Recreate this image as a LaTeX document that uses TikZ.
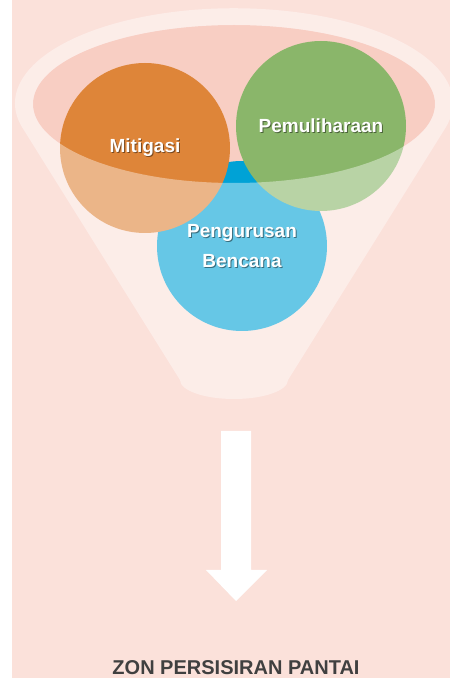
\documentclass[tikz,border=0pt]{standalone}
\usepackage{fontspec}
\usepackage{tikz}
\usetikzlibrary{positioning}
\newfontfamily\labelfont{Liberation Sans}
\definecolor{Backdrop}{RGB}{251, 225, 218}
\definecolor{Mouth}{RGB}{248, 206, 195}
\definecolor{Orange}{RGB}{222, 133, 57}
\definecolor{Green}{RGB}{138, 182, 106}
\definecolor{Blue}{RGB}{0, 162, 214}
\definecolor{Ink}{RGB}{64, 64, 64}

\begin{document}
\begin{tikzpicture}[x=1pt, y=1pt,
        circ/.style={circle, minimum size=170pt, inner sep=0pt},
        lbl/.style={font=\labelfont\bfseries\fontsize{19}{30}\selectfont, text=white, align=center, inner sep=0pt},
        lblshadow/.style={lbl, text=black, text opacity=0.45},
        funnel/.style={fill=white, fill opacity=0.4, even odd rule},
        zone/.style={font=\labelfont\bfseries\fontsize{20}{24}\selectfont, text=Ink, inner sep=0pt}
    ]%
        \useasboundingbox (0,0) rectangle (450,678);
        % ================= FONDO Y BOCA DEL EMBUDO =================
        \fill[white] (0,0) rectangle (12,678);
        \fill[Backdrop] (12,0) rectangle (450,678);
        \fill[Mouth] (234,574) ellipse[x radius=201, y radius=79];
        % ================= TRES CIRCULOS (azul detras) =================
        \node[circ, fill=Blue] (bencana) at (242,432) {};
        \node[circ, fill=Orange] (mitigasi) at (145,530) {};
        \node[circ, fill=Green] (pemuliharaan) at (321,552) {};
        % ================= CUERPO DEL EMBUDO (translucido, sin la boca) =================
        \fill[funnel] (22.6,550) -- (180,298) arc[start angle=180, end angle=360, x radius=54, y radius=19]
            -- (445.4,550) arc[start angle=-15.1, end angle=195.1, x radius=219, y radius=95] -- cycle
            (234,574) ellipse[x radius=201, y radius=79];
        % ================= ETIQUETAS CON SOMBRA =================
        \node[lblshadow] (mitigasi-s) at ([shift={(1,-1)}]mitigasi.center) {Mitigasi};
        \node[lbl] (mitigasi-t) at (mitigasi.center) {Mitigasi};
        \node[lblshadow] (pemuliharaan-s) at ([shift={(1,-1)}]pemuliharaan.center) {Pemuliharaan};
        \node[lbl] (pemuliharaan-t) at (pemuliharaan.center) {Pemuliharaan};
        \node[lblshadow] (bencana-s) at ([shift={(1,-1)}]bencana.center) {Pengurusan\\Bencana};
        \node[lbl] (bencana-t) at (bencana.center) {Pengurusan\\Bencana};
        % ================= FLECHA Y ZONA =================
        \fill[white] (221,247) -- (251,247) -- (251,108) -- (267,108) -- (236,77) -- (206,108) -- (221,108) -- cycle;
        \node[zone, anchor=base] (zon) at (236,3) {ZON PERSISIRAN PANTAI};
    \end{tikzpicture}
\end{document}
